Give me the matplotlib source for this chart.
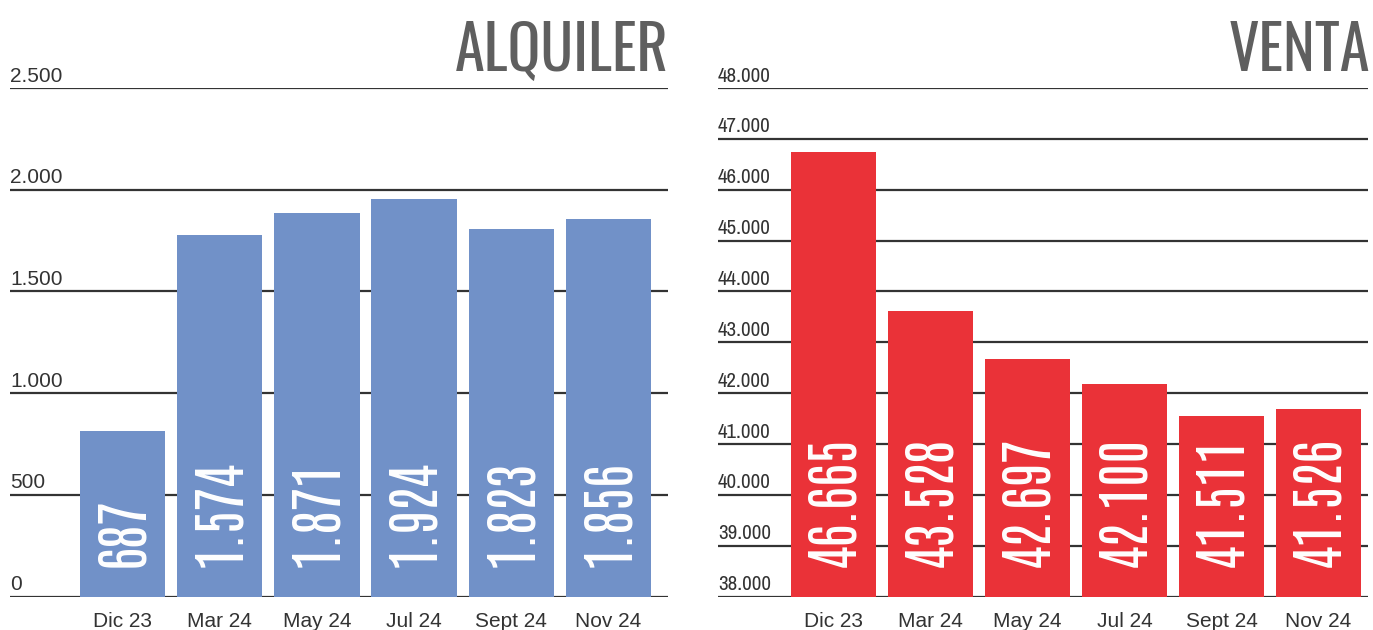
import matplotlib
matplotlib.use("Agg")
import matplotlib.pyplot as plt
from matplotlib.transforms import blended_transform_factory

# ---------------- data ----------------
categories = ["Dic 23", "Mar 24", "May 24", "Jul 24", "Sept 24", "Nov 24"]

alquiler_bars = [812, 1775, 1883, 1952, 1805, 1854]          # bar heights as drawn
alquiler_labels = ["687", "1.574", "1.871", "1.924", "1.823", "1.856"]
alquiler_ticks = [0, 500, 1000, 1500, 2000, 2500]
alquiler_ticklabels = ["0", "500", "1.000", "1.500", "2.000", "2.500"]

venta_bars = [46742, 43616, 42673, 42181, 41552, 41690]      # bar heights as drawn
venta_labels = ["46.665", "43.528", "42.697", "42.100", "41.511", "41.526"]
venta_ticks = [38000, 39000, 40000, 41000, 42000, 43000, 44000, 45000, 46000, 47000, 48000]
venta_ticklabels = ["38.000", "39.000", "40.000", "41.000", "42.000", "43.000",
                    "44.000", "45.000", "46.000", "47.000", "48.000"]

BLUE = "#7191c8"
RED = "#ea3238"
GRID = "#333333"
TITLE = "#5f5f5f"
TEXT = "#333333"

COND = ["Antonio", "League Gothic", "Liberation Sans Narrow", "DejaVu Sans"]
TITLEFONT = ["Oswald", "Antonio", "DejaVu Sans"]
SANS = ["Liberation Sans", "DejaVu Sans"]
NARROW = ["Archivo Narrow", "Roboto Condensed", "Liberation Sans", "DejaVu Sans"]

W, H = 1373, 630
fig = plt.figure(figsize=(W / 100, H / 100), dpi=100)


def px_axes(x0, x1, y_top, y_bot):
    return fig.add_axes([x0 / W, 1 - y_bot / H, (x1 - x0) / W, (y_bot - y_top) / H])


def panel(ax, bars, labels, ticks, ticklabels, color, ylim, xlim, title,
          tickfont, ticksize, valsize, title_x):
    x = list(range(len(categories)))
    ax.set_xlim(*xlim)
    ax.set_ylim(*ylim)
    for t in ticks:
        ax.axhline(t, color=GRID, lw=1.6, zorder=1)
    ax.bar(x, [b - ylim[0] for b in bars], bottom=ylim[0], width=0.88,
           color=color, zorder=2, linewidth=0)
    for s in ax.spines.values():
        s.set_visible(False)
    ax.set_xticks([])
    ax.set_yticks([])
    trans = blended_transform_factory(ax.transAxes, ax.transData)
    for t, lab in zip(ticks, ticklabels):
        ax.annotate(lab, xy=(0, t), xycoords=trans, xytext=(0, 4.6),
                    textcoords="offset points", ha="left", va="baseline",
                    fontsize=ticksize, color=TEXT, family=tickfont)
    for xi, cat in zip(x, categories):
        ax.annotate(cat, xy=(xi, ylim[0]), xytext=(0, -11.5),
                    textcoords="offset points", ha="center", va="top",
                    fontsize=15, color=TEXT, family=SANS)
    for xi, lab in zip(x, labels):
        ax.annotate(lab, xy=(xi, ylim[0]), xytext=(0, 21.5),
                    textcoords="offset points", ha="center", va="bottom",
                    rotation=90, fontsize=valsize, color="white", family=COND,
                    zorder=3)
    fig.text(title_x / W, 1 - 71 / H, title, ha="right", va="baseline",
             fontsize=43.5, weight="medium", color=TITLE, family=TITLEFONT)


ax1 = px_axes(10, 668, 88, 596.5)
panel(ax1, alquiler_bars, alquiler_labels, alquiler_ticks, alquiler_ticklabels,
      BLUE, (0, 2500), (-1.157, 5.612), "ALQUILER", SANS, 15, 40, 669)

ax2 = px_axes(718, 1368, 88, 596.5)
panel(ax2, venta_bars, venta_labels, venta_ticks, venta_ticklabels,
      RED, (38000, 48000), (-1.191, 5.51), "VENTA", NARROW, 15, 40, 1370)

fig.savefig("out.png", dpi=100)
